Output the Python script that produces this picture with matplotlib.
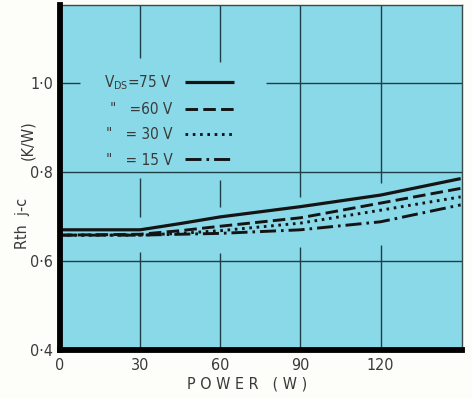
import matplotlib
matplotlib.use("Agg")
import matplotlib.pyplot as plt

# ---- data ----
power = [0, 30, 45, 60, 90, 120, 150]
r_75v = [0.670, 0.670, 0.684, 0.699, 0.722, 0.748, 0.785]
r_60v = [0.658, 0.660, 0.668, 0.678, 0.697, 0.730, 0.763]
r_30v = [0.658, 0.658, 0.662, 0.668, 0.685, 0.714, 0.744]
r_15v = [0.658, 0.658, 0.660, 0.662, 0.670, 0.688, 0.726]

series_labels = [r'$\mathregular{V_{DS}}$=75 V', '"   =60 V', '"   = 30 V', '"   = 15 V']
x_ticks = [0, 30, 60, 90, 120]
x_ticklabels = ['0', '30', '60', '90', '120']
y_ticks = [0.4, 0.6, 0.8, 1.0]
y_ticklabels = ['0·4', '0·6', '0·8', '1·0']

# ---- style ----
BG = '#8ad9e8'
INK = '#141414'
TXT = '#3a3a3a'
GRID = '#1f3f46'
plt.rcParams['font.family'] = ['DejaVu Sans']
plt.rcParams['font.stretch'] = 'condensed'

fig = plt.figure(figsize=(4.72, 3.99), dpi=100, facecolor='#fdfdf9')
ax = fig.add_axes([60/472, 1-350/399, 402/472, 345/399])
ax.set_facecolor(BG)
ax.set_xlim(0, 150.5)
ax.set_ylim(0.4, 1.175)

# broken grid (as printed)
vgrid = {30: [(1.056, 1.175), (0.699, 0.787), (0.4, 0.620)],
         60: [(1.047, 1.175), (0.721, 0.782), (0.4, 0.618)],
         90: [(0.744, 1.175), (0.4, 0.631)],
         120: [(0.775, 1.175), (0.4, 0.636)]}
for xv, segs in vgrid.items():
    for lo, hi in segs:
        ax.vlines(xv, lo, hi, color=GRID, lw=1.0, zorder=1)
hgrid = {1.0: [(0, 7.5), (77, 150.5)], 0.8: [(0, 150.5)], 0.6: [(0, 150.5)]}
for yv, segs in hgrid.items():
    for lo, hi in segs:
        ax.hlines(yv, lo, hi, color=GRID, lw=1.0, zorder=1)

lw = 2.1
l1, = ax.plot(power, r_75v, color=INK, lw=2.3, solid_capstyle='butt', zorder=3)
l2, = ax.plot(power, r_60v, color=INK, lw=lw, linestyle=(0, (4.3, 1.8)), zorder=3)
l3, = ax.plot(power, r_30v, color=INK, lw=lw, linestyle=(0, (0.9, 1.6)), zorder=3)
l4, = ax.plot(power, r_15v, color=INK, lw=lw, linestyle=(0, (5.5, 1.7, 0.9, 1.7)), zorder=3)

leg = ax.legend([l1, l2, l3, l4], series_labels, markerfirst=False, frameon=False,
                loc='upper left', bbox_to_anchor=(0.11, 0.802), fontsize=11,
                handlelength=3.25, handletextpad=0.8, labelspacing=0.67,
                borderpad=0.0, borderaxespad=0.0, labelcolor=TXT)

ax.set_xticks(x_ticks)
ax.set_xticklabels(x_ticklabels)
ax.set_yticks(y_ticks)
ax.set_yticklabels(y_ticklabels)
ax.tick_params(length=0, labelsize=11.5, labelcolor=TXT)
ax.tick_params(axis='x', pad=6)
ax.tick_params(axis='y', pad=5)

for s in ['left', 'bottom']:
    ax.spines[s].set_linewidth(4.2)
    ax.spines[s].set_color('#000000')
for s in ['top', 'right']:
    ax.spines[s].set_linewidth(1.0)
    ax.spines[s].set_color('#3a4a4a')
ax.spines['left'].set_zorder(5)
ax.spines['bottom'].set_zorder(5)

fig.text(247/472, 1-384/399, 'P O W E R   ( W )', ha='center', va='center', fontsize=11.5, color=TXT)
fig.text(22/472, 1-223/399, 'Rth  j-c', rotation=90, ha='center', va='center', fontsize=11.5, color=TXT)
fig.text(28/472, 1-140/399, '(K/W)', rotation=90, ha='center', va='center', fontsize=11.5, color=TXT)

fig.savefig('out.png', dpi=100, facecolor=fig.get_facecolor())
